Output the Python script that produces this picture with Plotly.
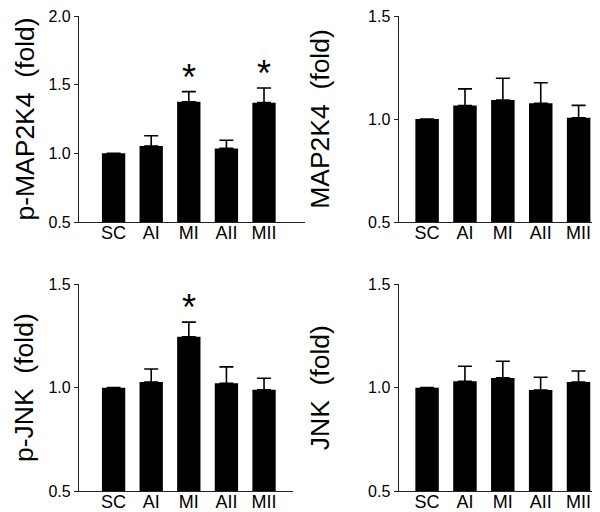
import plotly.graph_objects as go

W, H = 600, 512

categories = ["SC", "AI", "MI", "AII", "MII"]

p_map2k4 = [1.0, 1.053, 1.376, 1.036, 1.369]
p_map2k4_err = [0.0, 0.075, 0.073, 0.059, 0.107]
p_map2k4_sig = ["", "", "*", "", "*"]

map2k4 = [1.0, 1.065, 1.092, 1.076, 1.006]
map2k4_err = [0.0, 0.081, 0.106, 0.100, 0.060]
map2k4_sig = ["", "", "", "", ""]

p_jnk = [1.0, 1.027, 1.245, 1.021, 0.990]
p_jnk_err = [0.0, 0.063, 0.071, 0.079, 0.055]
p_jnk_sig = ["", "", "*", "", ""]

jnk = [1.0, 1.031, 1.047, 0.989, 1.027]
jnk_err = [0.0, 0.072, 0.080, 0.061, 0.053]
jnk_sig = ["", "", "", "", ""]

FONT = "Liberation Sans, Arial, Helvetica, sans-serif"

panels = [
    dict(vals=p_map2k4, err=p_map2k4_err, sig=p_map2k4_sig, title="p-MAP2K4  (fold)",
         ymax=2.0, ytick=[0.5, 1.0, 1.5, 2.0], px=(71, 297), py=(8, 214), xr=[-0.92, 5.09], standoff=6),
    dict(vals=map2k4, err=map2k4_err, sig=map2k4_sig, title="MAP2K4  (fold)",
         ymax=1.5, ytick=[0.5, 1.0, 1.5], px=(390.7, 596), py=(8, 214), xr=[-0.75, 4.67], standoff=30),
    dict(vals=p_jnk, err=p_jnk_err, sig=p_jnk_sig, title="p-JNK  (fold)",
         ymax=1.5, ytick=[0.5, 1.0, 1.5], px=(71, 285), py=(276, 483.3), xr=[-0.92, 4.77], standoff=7),
    dict(vals=jnk, err=jnk_err, sig=jnk_sig, title="JNK  (fold)",
         ymax=1.5, ytick=[0.5, 1.0, 1.5], px=(390.7, 597), py=(276, 483.3), xr=[-0.75, 4.7], standoff=30),
]

fig = go.Figure()
annotations = []
for i, p in enumerate(panels):
    n = "" if i == 0 else str(i + 1)
    xa, ya = "x" + n, "y" + n
    fig.add_trace(go.Bar(
        x=categories, y=p["vals"], xaxis=xa, yaxis=ya,
        marker=dict(color="black", line=dict(width=0)), width=0.62,
        error_y=dict(type="data", array=p["err"], arrayminus=[0] * len(p["err"]),
                     symmetric=False, color="black", thickness=1.6, width=7),
        showlegend=False,
    ))
    for c, v, e, s in zip(categories, p["vals"], p["err"], p["sig"]):
        if s:
            annotations.append(dict(x=c, y=v + e, xref=xa, yref=ya, text=s, showarrow=False,
                                    yanchor="bottom", yshift=-8,
                                    font=dict(family=FONT, size=36, color="black")))
    dom_x = [p["px"][0] / W, p["px"][1] / W]
    dom_y = [1 - p["py"][1] / H, 1 - p["py"][0] / H]
    fig.layout["xaxis" + n] = dict(
        domain=dom_x, anchor=ya, range=p["xr"], type="category", automargin=False,
        showline=True, linecolor="#222", linewidth=1.3, ticks="",
        tickfont=dict(family=FONT, size=18, color="black"), ticklabelstandoff=-6,
        ticklabeloverflow="allow",
        showgrid=False, zeroline=False, fixedrange=True,
    )
    fig.layout["yaxis" + n] = dict(
        domain=dom_y, anchor=xa, range=[0.5, p["ymax"]], tickvals=p["ytick"], automargin=False,
        ticktext=[f"{t:.1f}" for t in p["ytick"]], ticklabeloverflow="allow",
        showline=True, linecolor="#222", linewidth=1.3, ticks="outside", ticklen=4,
        tickcolor="#222", tickwidth=1.3,
        tickfont=dict(family=FONT, size=16, color="black"),
        title=dict(text=p["title"], font=dict(family=FONT, size=26.5, color="black"),
                   standoff=p["standoff"]),
        showgrid=False, zeroline=False, fixedrange=True,
    )

fig.update_layout(
    width=W, height=H, margin=dict(l=0, r=0, t=0, b=0),
    paper_bgcolor="white", plot_bgcolor="white",
    annotations=annotations, bargap=0.38,
)

fig.write_html("out.html")
